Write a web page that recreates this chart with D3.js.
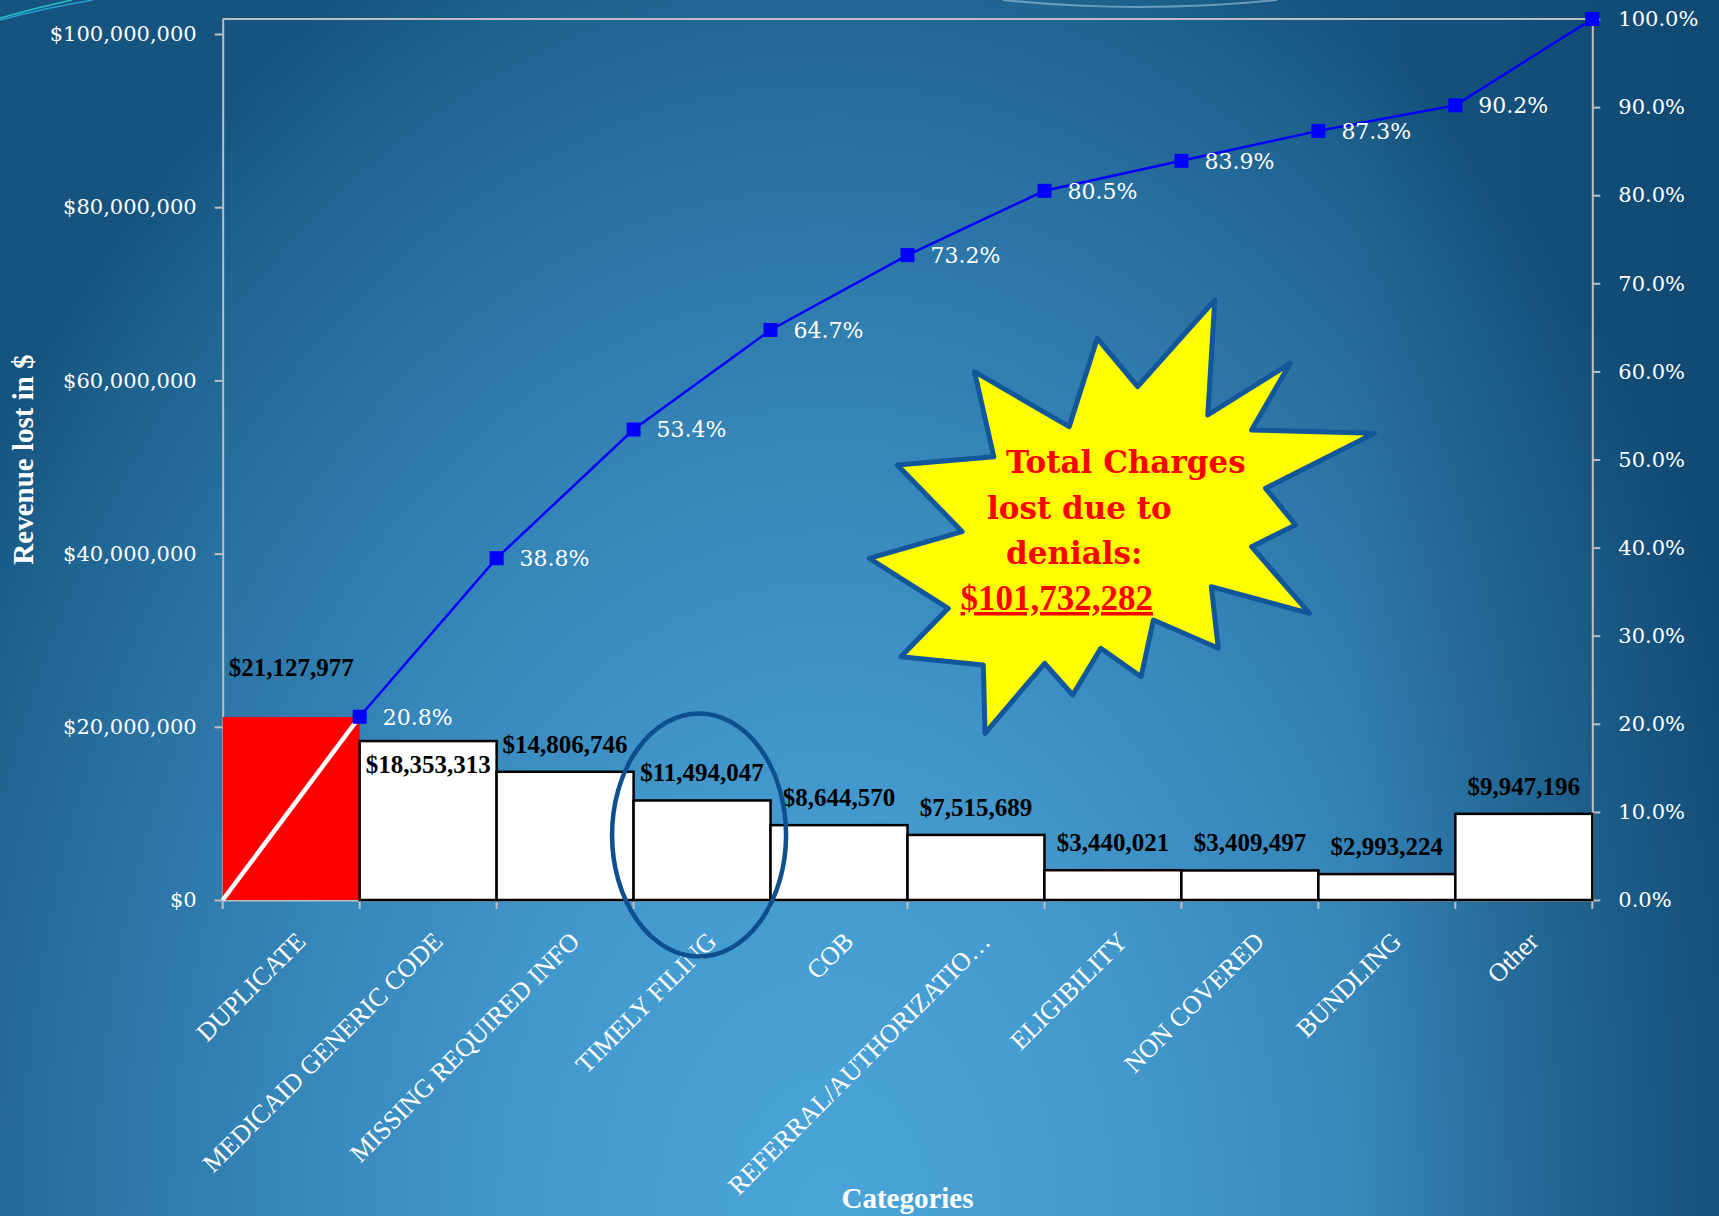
<!DOCTYPE html>
<html><head><meta charset="utf-8">
<script src="https://cdn.jsdelivr.net/npm/d3@7"></script>
<style>html,body{margin:0;padding:0;overflow:hidden;background:#1a5f8b}</style>
</head><body><svg id="chart" width="1719" height="1216"></svg>
<script>
// ---------- data ----------
const categories = ["DUPLICATE","MEDICAID GENERIC CODE","MISSING REQUIRED INFO","TIMELY FILING","COB","REFERRAL/AUTHORIZATIO\u2026","ELIGIBILITY","NON COVERED","BUNDLING","Other"];
const revenueLost = [21127977,18353313,14806746,11494047,8644570,7515689,3440021,3409497,2993224,9947196];
const cumulativePct = [20.8,38.8,53.4,64.7,73.2,80.5,83.9,87.3,90.2,100.0];
const leftTickValues = [0,20000000,40000000,60000000,80000000,100000000];
const rightTickValues = [0,10,20,30,40,50,60,70,80,90,100];
const totalCharges = 101732282;
const calloutLines = ["Total Charges","lost due to","denials:","$101,732,282"];
const yAxisTitle = "Revenue lost in $";
const xAxisTitle = "Categories";

// ---------- layout ----------
const W = 1719, H = 1216;
const plot = {left: 222.7, right: 1592.3, top: 19, bottom: 900};
const svg = d3.select("#chart");
const defs = svg.append("defs");

const rg = defs.append("radialGradient").attr("id","bg")
  .attr("gradientUnits","userSpaceOnUse").attr("cx",830).attr("cy",1216).attr("r",1000)
  .attr("gradientTransform","translate(830,1216) scale(1,1.4) translate(-830,-1216)");
[[0,"#4ba5d9"],[0.3,"#4399cd"],[0.55,"#3686b9"],[0.75,"#2a73a3"],[0.9,"#1f6491"],[1,"#15547f"]]
  .forEach(([o,c])=>rg.append("stop").attr("offset",o).attr("stop-color",c));
const lg = defs.append("linearGradient").attr("id","edge").attr("gradientUnits","userSpaceOnUse")
  .attr("x1",1350).attr("y1",0).attr("x2",1719).attr("y2",0);
lg.append("stop").attr("offset",0).attr("stop-color","#0b3f66").attr("stop-opacity",0);
lg.append("stop").attr("offset",1).attr("stop-color","#0b3f66").attr("stop-opacity",0.5);

svg.append("rect").attr("width",W).attr("height",H).attr("fill","url(#bg)");
svg.append("rect").attr("x",1350).attr("width",W-1350).attr("height",H).attr("fill","url(#edge)");

// theme decorations
svg.append("path").attr("d","M0,20 Q45,8 93,0").attr("fill","none").attr("stroke","#2a9fd6").attr("stroke-width",1.5);
svg.append("path").attr("d","M0,18 Q35,8 72,0").attr("fill","none").attr("stroke","#23c2c4").attr("stroke-width",1.5);
svg.append("path").attr("d","M1003,0 Q1140,14 1277,0").attr("fill","none").attr("stroke","#8bb8d2").attr("stroke-width",2).attr("opacity",0.7);

// ---------- scales ----------
const x = d3.scaleBand().domain(categories).range([plot.left, plot.right]).padding(0);
const yL = d3.scaleLinear().domain([0,totalCharges]).range([plot.bottom, plot.top]);
const yR = d3.scaleLinear().domain([0,100]).range([plot.bottom, plot.top]);
const bw = x.bandwidth();

const axisColor = "#bfbfbf";
const numFont = "'DejaVu Serif', serif";
const wordFont = "'Liberation Serif', 'Times New Roman', serif";

// frame top line
svg.append("line").attr("x1",plot.left).attr("x2",plot.right).attr("y1",plot.top).attr("y2",plot.top)
  .attr("stroke",axisColor).attr("stroke-width",2);

// left axis
const gL = svg.append("g").attr("transform",`translate(${plot.left},0)`)
  .call(d3.axisLeft(yL).tickValues(leftTickValues).tickSize(8).tickSizeOuter(0).tickPadding(18)
    .tickFormat(d=>"$"+d3.format(",")(d)));
// right axis
const gR = svg.append("g").attr("transform",`translate(${plot.right},0)`)
  .call(d3.axisRight(yR).tickValues(rightTickValues).tickSize(8).tickSizeOuter(0).tickPadding(18)
    .tickFormat(d=>d3.format(".1f")(d)+"%"));
[gL,gR].forEach(g=>{
  g.select(".domain").attr("stroke",axisColor).attr("stroke-width",2);
  g.selectAll(".tick line").attr("stroke",axisColor).attr("stroke-width",2);
  g.selectAll("text").attr("fill","#ffffff").attr("font-family",numFont).attr("font-size",21);
});

// bottom axis (labels at band centres)
const gB = svg.append("g").attr("transform",`translate(0,${plot.bottom})`)
  .call(d3.axisBottom(x).tickSize(0).tickSizeOuter(0).tickPadding(0));
gB.select(".domain").attr("stroke",axisColor).attr("stroke-width",2);
gB.selectAll(".tick text")
  .attr("fill","#ffffff").attr("font-family",wordFont).attr("font-size",26)
  .attr("text-anchor","end").attr("x",0).attr("y",0).attr("dy",0)
  .attr("transform","translate(16,43) rotate(-45)");
// boundary ticks
const bounds = categories.map(c=>x(c)).concat([plot.right]);
svg.append("g").selectAll("line").data(bounds).join("line")
  .attr("x1",d=>d).attr("x2",d=>d).attr("y1",plot.bottom).attr("y2",plot.bottom+9)
  .attr("stroke",axisColor).attr("stroke-width",2);

// ---------- bars ----------
svg.append("g").selectAll("rect").data(revenueLost).join("rect")
  .attr("x",(d,i)=>x(categories[i]))
  .attr("width",bw)
  .attr("y",d=>yL(d))
  .attr("height",d=>plot.bottom-yL(d))
  .attr("fill",(d,i)=>i===0?"#ff0000":"#ffffff")
  .attr("stroke",(d,i)=>i===0?"none":"#000000")
  .attr("stroke-width",2.5);

// bar value labels
svg.append("g").selectAll("text").data(revenueLost).join("text")
  .attr("x",(d,i)=>x(categories[i])+bw/2)
  .attr("y",(d,i)=>yL(d)+(i===0?-41:(i===1?32:-19)))
  .attr("text-anchor","middle")
  .attr("font-family",wordFont).attr("font-weight","bold").attr("font-size",25)
  .attr("fill","#000000")
  .text(d=>"$"+d3.format(",")(d));

// ---------- cumulative line ----------
const pts = [{x:plot.left, y:yR(0)}].concat(cumulativePct.map((p,i)=>({x:x(categories[i])+bw, y:yR(p), p})));
const lineGen = d3.line().x(d=>d.x).y(d=>d.y);
svg.append("path").attr("d",lineGen(pts.slice(0,2))).attr("fill","none")
  .attr("stroke","#ffffff").attr("stroke-width",4.5);
svg.append("path").attr("d",lineGen(pts.slice(1))).attr("fill","none")
  .attr("stroke","#0000ff").attr("stroke-width",2.5);
svg.append("g").selectAll("rect").data(pts.slice(1)).join("rect")
  .attr("x",d=>d.x-7).attr("y",d=>d.y-7).attr("width",14).attr("height",14)
  .attr("fill","#0000ff");
svg.append("g").selectAll("text").data(pts.slice(1,pts.length-1)).join("text")
  .attr("x",d=>d.x+23).attr("y",d=>d.y).attr("dy","0.36em")
  .attr("font-family",numFont).attr("font-size",22).attr("fill","#ffffff")
  .text(d=>d3.format(".1f")(d.p)+"%");

// ---------- axis titles ----------
svg.append("text").attr("transform",`translate(33,${(plot.top+plot.bottom)/2}) rotate(-90)`)
  .attr("text-anchor","middle").attr("font-family",wordFont).attr("font-weight","bold")
  .attr("font-size",29).attr("fill","#ffffff").text(yAxisTitle);
svg.append("text").attr("x",(plot.left+plot.right)/2).attr("y",1208)
  .attr("text-anchor","middle").attr("font-family",wordFont).attr("font-weight","bold")
  .attr("font-size",29).attr("fill","#ffffff").text(xAxisTitle);

// ---------- annotations ----------
const tfx = x("TIMELY FILING")+bw/2;
svg.append("ellipse").attr("cx",tfx-3).attr("cy",835).attr("rx",87).attr("ry",121.5)
  .attr("fill","none").attr("stroke","#0e4f8f").attr("stroke-width",4.5);

const star = [[974.5,371.7],[1069.2,426.7],[1097.3,338.3],[1137.6,386.7],[1214.8,300],[1207.8,415],
  [1290.2,363.3],[1251.6,430],[1374.4,433.3],[1265.6,488.3],[1295.5,525],[1251.6,546.7],
  [1309.5,613.3],[1211.3,586.7],[1218.3,648.3],[1153.4,620],[1141.1,676.7],[1100.8,648.3],
  [1072.7,695],[1044.7,663.3],[985,733.3],[983.3,665],[900.9,656.7],[948.2,608.3],
  [869.3,558.3],[962.2,531.7],[897.4,465],[993.8,456.7]];
svg.append("polygon").attr("points",star.map(p=>p.join(",")).join(" "))
  .attr("fill","#ffff00").attr("stroke","#12579b").attr("stroke-width",5).attr("stroke-linejoin","round");

const lineX = [1006,987,1006,960.5];
const lineY = [473,519,564,610];
svg.append("g").selectAll("text").data(calloutLines).join("text")
  .attr("x",(d,i)=>lineX[i]).attr("y",(d,i)=>lineY[i])
  .attr("font-family",(d,i)=>i===3?wordFont:numFont)
  .attr("font-weight","bold").attr("font-size",(d,i)=>i===3?35:31)
  .attr("fill","#ff0000")
  .attr("text-decoration",(d,i)=>i===3?"underline":null)
  .text(d=>d);
</script>
</body></html>
